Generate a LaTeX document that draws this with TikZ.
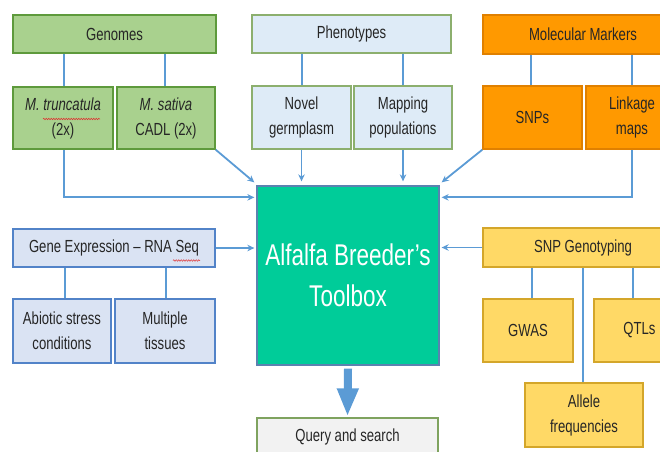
\documentclass[tikz,border=0pt]{standalone}
\usepackage{fontspec}
\setmainfont{Liberation Sans}[FakeStretch=0.75]
\usetikzlibrary{arrows.meta,decorations.pathmorphing}
\definecolor{txt}{RGB}{38,38,38}
\definecolor{gfill}{HTML}{A9D18E}
\definecolor{gdraw}{HTML}{5E9A3C}
\definecolor{pfill}{HTML}{DEEBF7}
\definecolor{pdraw}{HTML}{8CAF6E}
\definecolor{ofill}{HTML}{FF9900}
\definecolor{odraw}{HTML}{E08000}
\definecolor{gefill}{HTML}{DAE3F3}
\definecolor{gedraw}{HTML}{5283C8}
\definecolor{yfill}{HTML}{FFD966}
\definecolor{ydraw}{HTML}{D4A62A}
\definecolor{tbfill}{HTML}{00CC99}
\definecolor{tbdraw}{HTML}{5B82B0}
\definecolor{qfill}{HTML}{F2F2F2}
\definecolor{qdraw}{HTML}{7FA35F}
\definecolor{lblue}{HTML}{5B9BD5}
\definecolor{spell}{HTML}{E03030}
\begin{document}
\begin{tikzpicture}[x=1pt,y=-1pt,
  box/.style={draw, line width=1.3pt, inner sep=0pt, align=center, text=txt,
    font=\fontsize{17.5}{25}\selectfont},
  greenbox/.style={box, fill=gfill, draw=gdraw},
  phenobox/.style={box, fill=pfill, draw=pdraw},
  orangebox/.style={box, fill=ofill, draw=odraw},
  gebox/.style={box, fill=gefill, draw=gedraw},
  yellowbox/.style={box, fill=yfill, draw=ydraw},
  querybox/.style={box, fill=qfill, draw=qdraw},
  toolbox/.style={draw=tbdraw, fill=tbfill, line width=1.3pt, inner sep=0pt,
    align=center, text=white, font=\fontsize{30}{41}\selectfont},
  conn/.style={draw=lblue, line width=1.8pt},
  arr/.style={conn, -{Stealth[length=7pt,width=6.5pt]}},
  bigarr/.style={draw=lblue, line width=8pt, -{Triangle[length=28pt,width=20pt]}},
  spellmark/.style={draw=spell, line width=0.5pt, decorate,
    decoration={snake, amplitude=0.8pt, segment length=2.5pt}}
]
\useasboundingbox (0,0) rectangle (660,451);
\clip (0,0) rectangle (660,451);

% Genomes
\node[greenbox, minimum width=203pt, minimum height=38pt] (Gen) at (114.5,34) {Genomes};
\node[greenbox, minimum width=100pt, minimum height=62pt] (MT) at (63,118) {\textit{M. truncatula}\\(2x)};
\node[greenbox, minimum width=98pt, minimum height=62pt] (MS) at (166,118) {\textit{M. sativa}\\CADL (2x)};

% Phenotypes
\node[phenobox, minimum width=199pt, minimum height=38pt] (Phen) at (351.5,34) {Phenotypes};
\node[phenobox, minimum width=99pt, minimum height=63pt] (Nov) at (301.5,117.5) {Novel\\germplasm};
\node[phenobox, minimum width=98pt, minimum height=63pt] (Map) at (403,117.5) {Mapping\\populations};

% Molecular markers
\node[orangebox, minimum width=200pt, minimum height=39pt] (Mol) at (583,34.5) {Molecular Markers};
\node[orangebox, minimum width=99pt, minimum height=63pt] (SNP) at (532.5,117.5) {SNPs};
\node[orangebox, minimum width=92pt, minimum height=63pt] (Link) at (632,117.5) {Linkage\\maps};

% Gene expression
\node[gebox, minimum width=202pt, minimum height=38pt] (GE) at (114,248) {Gene Expression -- RNA Seq};
\node[gebox, minimum width=98pt, minimum height=64pt] (Abi) at (62,331) {Abiotic stress\\conditions};
\node[gebox, minimum width=100pt, minimum height=64pt] (Mul) at (165,331) {Multiple\\tissues};

% SNP genotyping
\node[yellowbox, minimum width=200pt, minimum height=39pt] (SNPG) at (583,247.5) {SNP Genotyping};
\node[yellowbox, minimum width=90pt, minimum height=63pt] (GWAS) at (528,330.5) {GWAS};
\node[yellowbox, minimum width=91pt, minimum height=63pt] (QTL) at (639.5,330.5) {QTLs};
\node[yellowbox, minimum width=118pt, minimum height=64pt] (All) at (584,415) {Allele\\frequencies};

% Toolbox and query
\node[toolbox, minimum width=182pt, minimum height=179pt] (TB) at (348,275.5) {Alfalfa Breeder’s\\Toolbox};
\node[querybox, minimum width=181pt, minimum height=38pt] (Q) at (347.5,437) {Query and search};

% header-to-item lines
\draw[conn] ([xshift=1pt]MT.north) -- ([xshift=1pt]MT.north |- Gen.south);
\draw[conn] ([xshift=-1pt]MS.north) -- ([xshift=-1pt]MS.north |- Gen.south);
\draw[conn] ([xshift=0.5pt]Nov.north) -- ([xshift=0.5pt]Nov.north |- Phen.south);
\draw[conn] (Map.north) -- (Map.north |- Phen.south);
\draw[conn] ([xshift=-1.5pt]SNP.north) -- ([xshift=-1.5pt]SNP.north |- Mol.south);
\draw[conn] (Link.north) -- (Link.north |- Mol.south);
\draw[conn] ([xshift=3pt]Abi.north) -- ([xshift=3pt]Abi.north |- GE.south);
\draw[conn] ([xshift=1pt]Mul.north) -- ([xshift=1pt]Mul.north |- GE.south);
\draw[conn] ([xshift=4pt]GWAS.north) -- ([xshift=4pt]GWAS.north |- SNPG.south);
\draw[conn] ([xshift=-1pt]All.north) -- ([xshift=-1pt]All.north |- SNPG.south);
\draw[conn] ([xshift=-6.5pt]QTL.north) -- ([xshift=-6.5pt]QTL.north |- SNPG.south);

% arrows into the toolbox
\draw[arr] ([xshift=1pt]MT.south) |- ([xshift=-2pt,yshift=-12pt]TB.north west);
\draw[arr] (MS.south east) -- ([shift={(-2pt,3pt)}]TB.north west);
\draw[arr] (Nov.south) -- ([yshift=4pt]Nov.south |- TB.north);
\draw[arr] (Map.south) -- ([yshift=4pt]Map.south |- TB.north);
\draw[arr] (SNP.south west) -- ([shift={(2pt,3pt)}]TB.north east);
\draw[arr] (Link.south) |- ([xshift=2pt,yshift=-12pt]TB.north east);
\draw[arr] (GE.east) -- ([xshift=-2pt]TB.west |- GE.east);
\draw[arr] (SNPG.west) -- ([xshift=2pt]TB.east |- SNPG.west);

% output arrow
\draw[bigarr] ([yshift=-3pt]TB.south) -- ([yshift=1pt]Q.north);

% spell-check marks
\draw[spellmark] (43,119) -- (100,119);
\draw[spellmark] (173,260.5) -- (200,260.5);
\end{tikzpicture}
\end{document}
